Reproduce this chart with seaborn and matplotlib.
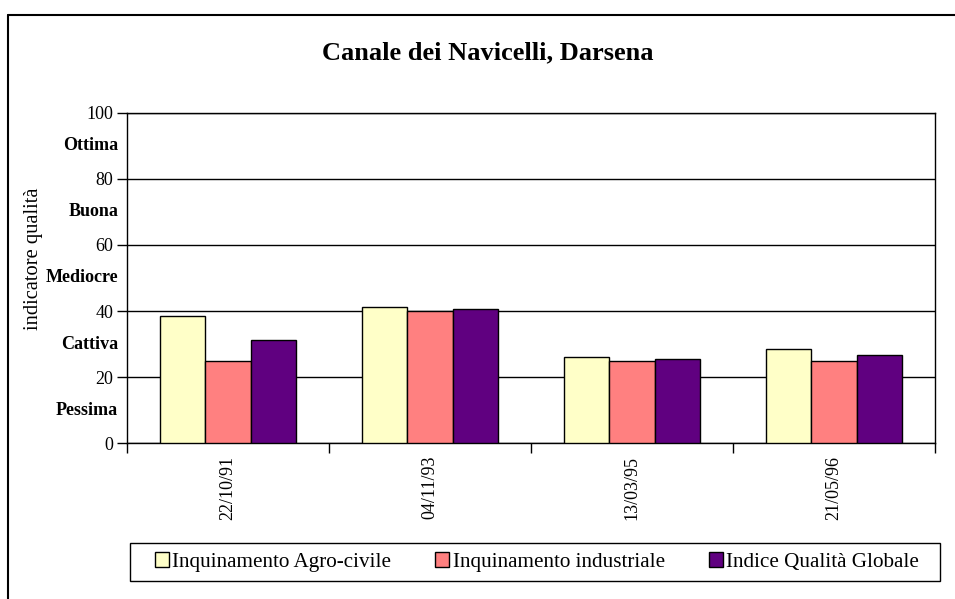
import pandas as pd
import numpy as np
import seaborn as sns
import matplotlib.pyplot as plt
from matplotlib.lines import Line2D

# data
dates = ["22/10/91", "04/11/93", "13/03/95", "21/05/96"]
agro_civile = [38.5, 41.1, 26.2, 28.6]
industriale = [25.0, 40.1, 25.0, 25.0]
indice_globale = [31.3, 40.6, 25.5, 26.7]
series_names = ["Inquinamento Agro-civile", "Inquinamento industriale", "Indice Qualità Globale"]
colors = ["#FFFFC8", "#FF8080", "#600080"]

levels = ["Pessima", "Cattiva", "Mediocre", "Buona", "Ottima"]
level_pos = [10, 30, 50, 70, 90]

df = pd.DataFrame({
    "data": dates * 3,
    "serie": [series_names[0]] * 4 + [series_names[1]] * 4 + [series_names[2]] * 4,
    "valore": agro_civile + industriale + indice_globale,
})

sns.set_style("white")
plt.rcParams["font.family"] = ["Liberation Serif", "DejaVu Serif"]
plt.rcParams["text.color"] = "black"
plt.rcParams["xtick.color"] = "black"
plt.rcParams["ytick.color"] = "black"
plt.rcParams["axes.labelcolor"] = "black"

fig = plt.figure(figsize=(9.55, 5.99), dpi=100)
ax = fig.add_axes([0.133, 0.2604, 0.846, 0.551])

sns.barplot(data=df, x="data", y="valore", hue="serie", palette=colors,
            width=0.67, gap=0, edgecolor="black", linewidth=1, saturation=1,
            ax=ax, zorder=3)

ax.set_ylim(0, 100)
ax.set_xlim(-0.5, 3.5)
ax.set_yticks([0, 20, 40, 60, 80, 100])
ax.yaxis.grid(True, color="black", linewidth=1)
ax.set_axisbelow(True)
ax.tick_params(axis="y", direction="out", length=7, width=1, color="black",
               labelsize=13, pad=3, left=True)
ax.tick_params(axis="x", which="major", length=0, labelsize=13, pad=9,
               labelrotation=90)
ax.set_xticks(np.arange(-0.5, 4, 1), minor=True)
ax.tick_params(axis="x", which="minor", direction="out", length=7, width=1,
               color="black", bottom=True)
for s in ax.spines.values():
    s.set_color("black")
    s.set_linewidth(1)
    s.set_visible(True)
ax.set_xlabel("")
ax.set_ylabel("")

# quality class labels between the ticks
for lab, pos in zip(levels, level_pos):
    ax.text(-0.011, pos, lab, transform=ax.get_yaxis_transform(), ha="right",
            va="center", fontsize=13, fontweight="bold")

fig.text(0.511, 0.9115, "Canale dei Navicelli, Darsena", ha="center",
         va="center", fontsize=19, fontweight="bold")
fig.text(0.035, 0.568, "indicatore qualità", rotation=90, ha="center",
         va="center", fontsize=14.8)

ax.get_legend().remove()
handles = [plt.Rectangle((0, 0), 1, 1, facecolor=c, edgecolor="black", linewidth=1)
           for c in colors]
leg = fig.legend(handles, series_names, ncol=3, loc="center",
                 bbox_to_anchor=(537 / 955, 1 - 562 / 599), frameon=False,
                 fontsize=15.2, handlelength=0.67, handleheight=0.67,
                 handletextpad=0.15, columnspacing=2.1, borderpad=0.4,
                 borderaxespad=0)

# legend box drawn separately so it can be wider than the entries
fig.add_artist(plt.Rectangle((130 / 955, 1 - 581 / 599), 810 / 955, 38 / 599,
                             transform=fig.transFigure, facecolor="none",
                             edgecolor="black", linewidth=1))

# outer chart frame
fig.add_artist(Line2D([8 / 955, 8 / 955], [0, 1 - 15 / 599], color="black",
                      linewidth=1.5, transform=fig.transFigure))
fig.add_artist(Line2D([8 / 955, 1], [1 - 15 / 599, 1 - 15 / 599], color="black",
                      linewidth=1.5, transform=fig.transFigure))

fig.savefig("out.png", dpi=100)
